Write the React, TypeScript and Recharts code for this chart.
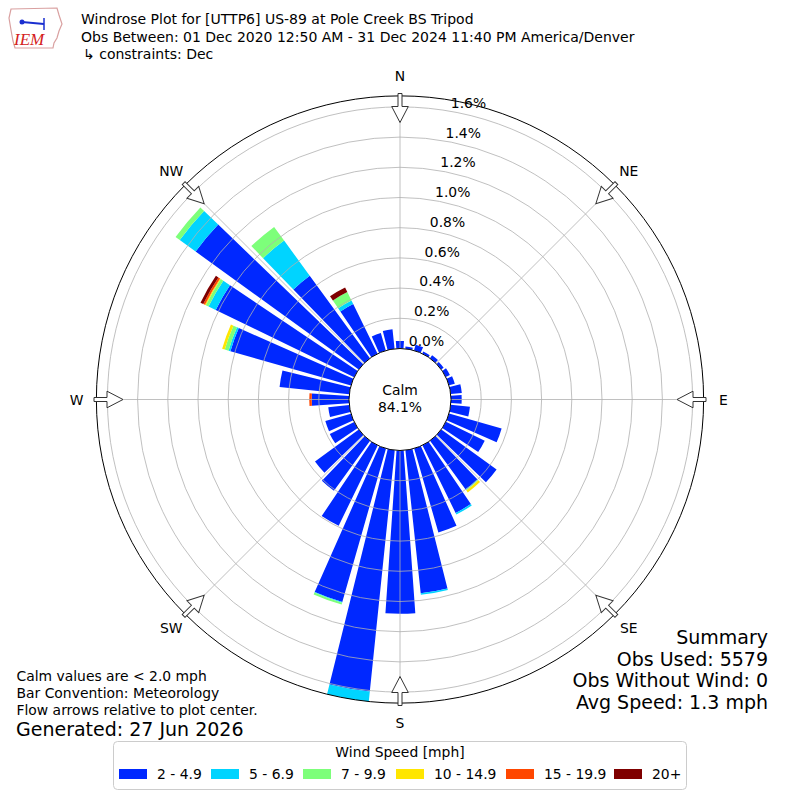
import { RadialBarChart, RadialBar, PolarAngleAxis, PolarRadiusAxis } from 'recharts';

// wind direction bins (degrees, meteorological: where the wind blows from)
const directions = [
  0, 10, 20, 30, 40, 50, 60, 70, 80, 90, 100, 110, 120, 130, 140, 150, 160, 170,
  180, 190, 200, 210, 220, 230, 240, 250, 260, 270, 280, 290, 300, 310, 320, 330, 340, 350,
];

// frequency (%) per direction for each speed bin
const speed2to5 = [
  0.05, 0.015, 0.04, 0.015, 0.025, 0.02, 0.03, 0.04, 0.074, 0.071, 0.128, 0.362, 0.286, 0.452, 0.4, 0.499, 0.579, 0.953,
  1.081, 1.607, 1.057, 0.592, 0.408, 0.359, 0.18, 0.177, 0.14, 0.247, 0.464, 0.83, 1.019, 1.333, 0.677, 0.367, 0.12, 0.13,
];
const speed5to7 = [
  0, 0, 0, 0, 0, 0, 0, 0, 0, 0, 0, 0, 0, 0, 0.004, 0.011, 0, 0.01,
  0, 0.066, 0.004, 0, 0, 0, 0, 0, 0, 0, 0, 0.013, 0.053, 0.13, 0.288, 0.026, 0, 0,
];
const speed7to10 = [
  0, 0, 0, 0, 0, 0, 0, 0, 0, 0, 0, 0, 0, 0, 0.004, 0, 0, 0,
  0, 0, 0.013, 0, 0, 0, 0, 0, 0, 0, 0, 0.026, 0.02, 0.034, 0.112, 0.062, 0, 0,
];
const speed10to15 = [
  0, 0, 0, 0, 0, 0, 0, 0, 0, 0, 0, 0, 0, 0, 0.016, 0, 0, 0,
  0, 0, 0, 0, 0, 0, 0, 0, 0, 0, 0, 0.018, 0.006, 0, 0, 0, 0, 0,
];
const speed15to20 = [
  0, 0, 0, 0, 0, 0, 0, 0, 0, 0, 0, 0, 0, 0, 0, 0, 0, 0,
  0, 0, 0, 0, 0, 0, 0, 0, 0, 0.016, 0, 0, 0.013, 0, 0, 0, 0, 0,
];
const speed20plus = [
  0, 0, 0, 0, 0, 0, 0, 0, 0, 0, 0, 0, 0, 0, 0, 0, 0, 0,
  0, 0, 0, 0, 0, 0, 0, 0, 0, 0, 0, 0, 0.02, 0, 0, 0.034, 0, 0,
];

const speedLabels = ['2 - 4.9', '5 - 6.9', '7 - 9.9', '10 - 14.9', '15 - 19.9', '20+'];
const speedColors = ['#0028ff', '#00d4ff', '#7dff7a', '#ffe600', '#ff4700', '#7f0000'];
const radiusTicks = [0, 0.2, 0.4, 0.6, 0.8, 1.0, 1.2, 1.4, 1.6];
const compassLabels = ['N', 'NE', 'E', 'SE', 'S', 'SW', 'W', 'NW'];

const titleLines = [
  'Windrose Plot for [UTTP6] US-89 at Pole Creek BS Tripod',
  'Obs Between: 01 Dec 2020 12:50 AM - 31 Dec 2024 11:40 PM America/Denver',
  '\u21b3 constraints: Dec',
];
const noteLines = ['Calm values are < 2.0 mph', 'Bar Convention: Meteorology', 'Flow arrows relative to plot center.'];
const summaryLines = ['Summary', 'Obs Used: 5579', 'Obs Without Wind: 0', 'Avg Speed: 1.3 mph'];

const series = [speed2to5, speed5to7, speed7to10, speed10to15, speed15to20, speed20plus];
const data = directions.map((dir, i) => {
  const row: Record<string, number> = { dir };
  series.forEach((s, k) => {
    row['s' + k] = s[i];
  });
  return row;
});

const FONT = 'DejaVu Sans';
const CX = 400;
const CY = 399.5;
const INNER = 51; // 0 % sits on the calm circle
const PX_PER_PCT = 151;
const RMAX = 1.673; // plot edge, in %
const DOMAIN_MAX = 2;
const EDGE = INNER + RMAX * PX_PER_PCT;
const legendX = [119, 211, 303, 396, 506, 614];

// tick label plus its grid ring (drawn above the bars, like the original)
const RadiusTick = (props: any) => {
  const { x, y, payload } = props;
  const r = Math.hypot(x - CX, y - CY);
  return (
    <g>
      {payload.value > 0 && <circle cx={CX} cy={CY} r={r} fill="none" stroke="#b0b0b0" strokeWidth={0.8} />}
      <text x={x} y={y - 3.5} textAnchor="start" fontSize={13.9} fontFamily={FONT} fill="#000">
        {Number(payload.value).toFixed(1)}%
      </text>
    </g>
  );
};

function Arrow({ bearing }: { bearing: number }) {
  return (
    <g transform={`translate(${CX},${CY}) rotate(${bearing})`}>
      <polygon
        points="-2,-306 2,-306 2,-293 8.3,-293 0,-277 -8.3,-293 -2,-293"
        fill="#fff"
        stroke="#333"
        strokeWidth={1}
      />
    </g>
  );
}

function Overlay() {
  return (
    <svg width={800} height={800} style={{ position: 'absolute', left: 0, top: 0, pointerEvents: 'none' }} fontFamily={FONT}>
      {/* logo */}
      <path d="M11,9 L57,8 L59,15 L62,24 L59,31 L57,38 L54,43 L53,48 L15,48 L13,41 L11,30 L9,18 Z" fill="#fff" stroke="#d9a0a0" strokeWidth={1.2} />
      <line x1={22} y1={22} x2={44} y2={24} stroke="#1a2fd0" strokeWidth={2} />
      <circle cx={22} cy={22} r={2.5} fill="#1a2fd0" />
      <line x1={44} y1={18} x2={44} y2={30} stroke="#1a2fd0" strokeWidth={1.5} />
      <text x={14} y={45} fontSize={17} fontFamily="Liberation Serif" fontStyle="italic" fill="#d42020">IEM</text>

      {titleLines.map((t, i) => (
        <text key={t} x={i === 2 ? 83 : 81} y={24 + i * 17.5} fontSize={14} fill="#000">{t}</text>
      ))}

      {/* radial grid lines every 45 degrees */}
      {compassLabels.map((lab, i) => {
        const b = (i * 45 * Math.PI) / 180;
        return (
          <line
            key={'g' + lab}
            x1={CX + INNER * Math.sin(b)}
            y1={CY - INNER * Math.cos(b)}
            x2={CX + EDGE * Math.sin(b)}
            y2={CY - EDGE * Math.cos(b)}
            stroke="#b0b0b0"
            strokeWidth={0.8}
          />
        );
      })}

      <circle cx={CX} cy={CY} r={EDGE} fill="none" stroke="#000" strokeWidth={1} />

      {/* calm circle */}
      <circle cx={CX} cy={CY} r={INNER} fill="#fff" stroke="#000" strokeWidth={1} />
      <text x={CX} y={395} textAnchor="middle" fontSize={13.9}>Calm</text>
      <text x={CX} y={412} textAnchor="middle" fontSize={13.9}>84.1%</text>

      {compassLabels.map((lab, i) => {
        const b = (i * 45 * Math.PI) / 180;
        return (
          <g key={lab}>
            <Arrow bearing={i * 45} />
            <text x={CX + 323.5 * Math.sin(b)} y={CY - 323.5 * Math.cos(b) + 5} textAnchor="middle" fontSize={13.9}>{lab}</text>
          </g>
        );
      })}

      {noteLines.map((t, i) => (
        <text key={t} x={16.5} y={680.5 + i * 17.3} fontSize={13.9}>{t}</text>
      ))}
      <text x={16} y={736} fontSize={19}>Generated: 27 Jun 2026</text>

      {summaryLines.map((t, i) => (
        <text key={t} x={768} y={643.6 + i * 21.9} textAnchor="end" fontSize={19}>{t}</text>
      ))}

      {/* legend */}
      <rect x={113.5} y={741.5} width={573} height={48} rx={4} fill="#fff" stroke="#cccccc" strokeWidth={1} />
      <text x={400} y={757} textAnchor="middle" fontSize={13.9}>Wind Speed [mph]</text>
      {speedLabels.map((lab, i) => (
        <g key={lab}>
          <rect x={legendX[i]} y={769} width={28} height={10} fill={speedColors[i]} />
          <text x={legendX[i] + 38} y={779} fontSize={13.9}>{lab}</text>
        </g>
      ))}
    </svg>
  );
}

export default function App() {
  return (
    <div style={{ position: 'absolute', left: 0, top: 0, width: 800, height: 800, background: '#fff' }}>
      <RadialBarChart
        width={800}
        height={800}
        data={data}
        layout="centric"
        cx={CX}
        cy={CY}
        innerRadius={INNER}
        outerRadius={INNER + DOMAIN_MAX * PX_PER_PCT}
        startAngle={85}
        endAngle={-275}
        barCategoryGap="11%"
        margin={{ top: 0, right: 0, bottom: 0, left: 0 }}
      >
        <PolarAngleAxis type="category" dataKey="dir" tick={false} tickLine={false} axisLine={false} />
        {speedLabels.map((lab, k) => (
          <RadialBar key={lab} dataKey={'s' + k} stackId="wind" fill={speedColors[k]} isAnimationActive={false} />
        ))}
        <PolarRadiusAxis
          type="number"
          domain={[0, DOMAIN_MAX]}
          ticks={radiusTicks}
          angle={80}
          axisLine={false}
          tickLine={false}
          tick={RadiusTick}
          allowDataOverflow
        />
      </RadialBarChart>
      <Overlay />
    </div>
  );
}
